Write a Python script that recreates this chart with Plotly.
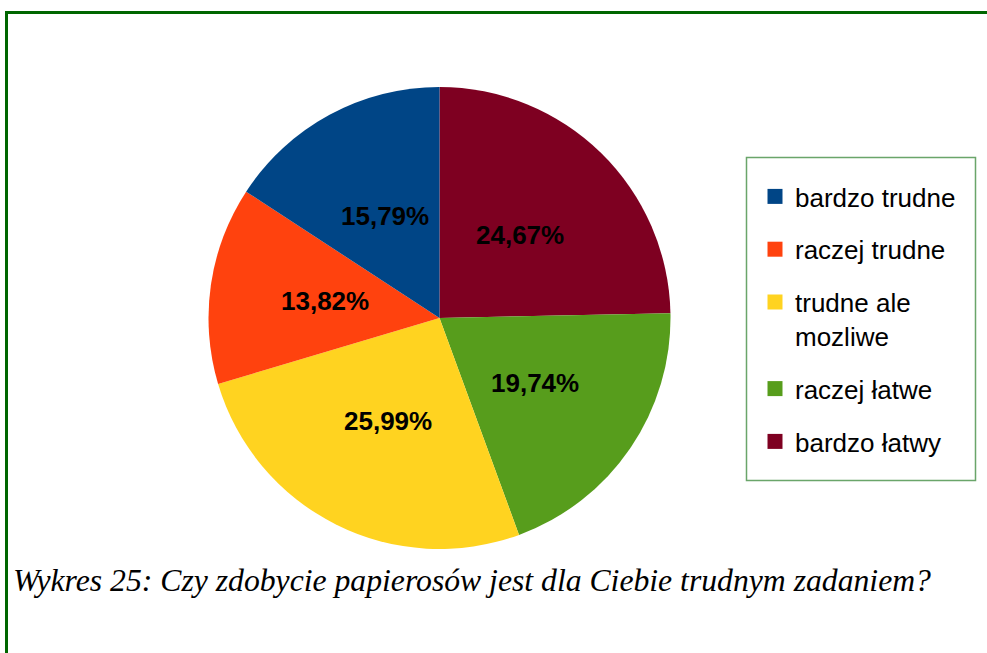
import math
import plotly.graph_objects as go

categories = ["bardzo trudne", "raczej trudne", "trudne ale<br>mozliwe", "raczej łatwe", "bardzo łatwy"]
values = [15.79, 13.82, 25.99, 19.74, 24.67]
colors = ["#004586", "#ff420e", "#ffd320", "#579d1c", "#7e0021"]
caption = "Wykres 25: Czy zdobycie papierosów jest dla Ciebie trudnym zadaniem?"

W, H = 987, 653
# pie placement (pixels)
PX0, PX1, PY0, PY1 = 208, 671, 87, 549
CX, CY = (PX0 + PX1) / 2, (PY0 + PY1) / 2
R = min(PX1 - PX0, PY1 - PY0) / 2

fig = go.Figure()
# slices run counterclockwise from 12 o'clock in category order;
# equivalently clockwise from 12 o'clock in reversed order
fig.add_trace(go.Pie(
    labels=categories[::-1],
    values=values[::-1],
    sort=False,
    direction="clockwise",
    rotation=0,
    marker=dict(colors=colors[::-1], line=dict(width=0)),
    textinfo="none",
    hoverinfo="label+value",
    showlegend=False,
    domain=dict(x=[PX0 / W, PX1 / W], y=[1 - PY1 / H, 1 - PY0 / H]),
))

# value labels at half radius on each slice's mid-angle (counterclockwise from 12 o'clock)
total = sum(values)
annotations = []
cum = 0.0
for v in values:
    mid = math.radians(90 + (cum + v / 2) / total * 360)
    cum += v
    px = CX + 0.5 * R * math.cos(mid)
    py = CY - 0.5 * R * math.sin(mid)
    annotations.append(dict(
        text=f"{v:.2f}%".replace(".", ","), xref="paper", yref="paper",
        x=px / W, y=1 - py / H, xanchor="center", yanchor="middle", showarrow=False,
        font=dict(family="Liberation Sans", size=26, color="black", weight="bold"),
    ))

annotations.append(dict(
    text=caption, xref="paper", yref="paper", x=11 / W, y=1 - 580 / H,
    xanchor="left", yanchor="middle", showarrow=False,
    font=dict(family="Liberation Serif", size=31.7, color="black", style="italic"),
))

# legend entries (one group per category so spacing can be set)
for i, (cat, col) in enumerate(zip(categories, colors)):
    fig.add_trace(go.Scatter(
        x=[None], y=[None], mode="markers", name=cat,
        legendgroup=f"g{i}",
        marker=dict(symbol="square", size=15, color=col),
        hoverinfo="skip",
    ))

fig.update_layout(
    width=W, height=H,
    margin=dict(l=0, r=0, t=0, b=0),
    paper_bgcolor="white", plot_bgcolor="white",
    xaxis=dict(visible=False), yaxis=dict(visible=False),
    legend=dict(
        x=755 / W, y=1 - 173 / H, xanchor="left", yanchor="top",
        borderwidth=0, bgcolor="rgba(0,0,0,0)",
        font=dict(family="Liberation Sans", size=26, color="black"),
        tracegroupgap=16, valign="top",
    ),
    shapes=[
        dict(type="line", xref="paper", yref="paper", x0=5 / W, x1=1, y0=1 - 12.5 / H, y1=1 - 12.5 / H,
             line=dict(color="#006600", width=3)),
        dict(type="line", xref="paper", yref="paper", x0=6.5 / W, x1=6.5 / W, y0=0, y1=1 - 11 / H,
             line=dict(color="#006600", width=3)),
        dict(type="rect", xref="paper", yref="paper", x0=746.5 / W, x1=975.5 / W,
             y0=1 - 480.5 / H, y1=1 - 157.5 / H, line=dict(color="#6aa56a", width=1.5)),
    ],
    annotations=annotations,
)

fig.write_html(
    "out.html",
    config={"displayModeBar": False},
    post_script="document.body.style.margin='0';document.body.style.overflow='hidden';",
)
